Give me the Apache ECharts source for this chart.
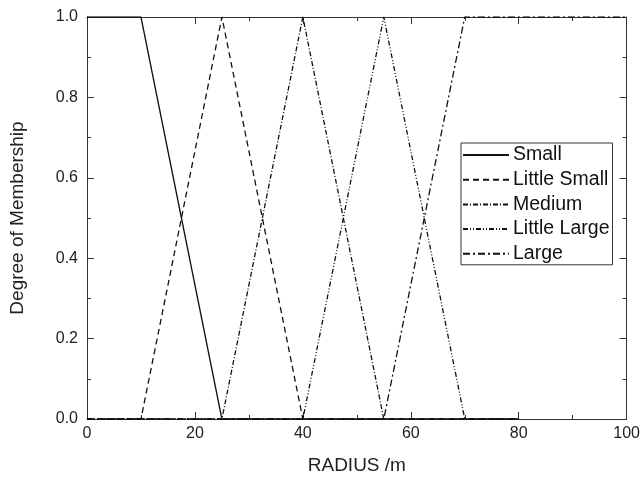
<!DOCTYPE html>
<html>
<head>
<meta charset="utf-8">
<script src="https://cdn.jsdelivr.net/npm/echarts@6/dist/echarts.min.js"></script>
<style>html,body{margin:0;padding:0;background:#fff}#c{width:643px;height:480px}</style>
</head>
<body>
<div id="c"></div>
<script>
const seriesNames = ["Small", "Little Small", "Medium", "Little Large", "Large"];
const small = [[0, 1], [10, 1], [25, 0], [80, 0]];
const littleSmall = [[0, 0], [10, 0], [25, 1], [40, 0], [80, 0]];
const medium = [[0, 0], [25, 0], [40, 1], [55, 0], [80, 0]];
const littleLarge = [[0, 0], [40, 0], [55, 1], [70, 0], [80, 0]];
const large = [[0, 0], [55, 0], [70, 1], [100, 1]];
const xTicks = [0, 20, 40, 60, 80, 100];
const yTicks = [0.0, 0.2, 0.4, 0.6, 0.8, 1.0];

const dashes = ["solid", [6, 4], [5, 2, 1, 2], [5, 2, 1, 2, 1, 2], [7, 3, 2, 3]];
const dataSets = [small, littleSmall, medium, littleLarge, large];
const font = "Liberation Sans, Arial, sans-serif";
const axisColor = "#333";

function mkX(pos, interval, len, showLine, labels) {
  return {
    type: "value", min: 0, max: 100, interval: interval, position: pos,
    splitLine: {show: false},
    axisLine: {show: showLine, onZero: false, lineStyle: {color: axisColor, width: 1}},
    axisTick: {show: true, inside: true, length: len, lineStyle: {color: axisColor}},
    axisLabel: labels ? {fontFamily: font, fontSize: 16, color: "#222", margin: 7,
      formatter: v => xTicks.includes(v) ? String(v) : ""} : {show: false}
  };
}
function mkY(pos, interval, len, showLine, labels) {
  return {
    type: "value", min: 0, max: 1, interval: interval, position: pos,
    splitLine: {show: false},
    axisLine: {show: showLine, onZero: false, lineStyle: {color: axisColor, width: 1}},
    axisTick: {show: true, inside: true, length: len, lineStyle: {color: axisColor}},
    axisLabel: labels ? {fontFamily: font, fontSize: 16, color: "#222", margin: 9,
      formatter: v => yTicks.find(t => Math.abs(t - v) < 1e-9) !== undefined ? v.toFixed(1) : ""} : {show: false}
  };
}

const xMain = mkX("bottom", 20, 7, true, true);
xMain.name = "RADIUS /m"; xMain.nameLocation = "middle"; xMain.nameGap = 37;
xMain.nameTextStyle = {fontFamily: font, fontSize: 19, color: "#222"};
const yMain = mkY("left", 0.2, 7, true, true);
yMain.name = "Degree of Membership"; yMain.nameLocation = "middle"; yMain.nameGap = 60;
yMain.nameTextStyle = {fontFamily: font, fontSize: 19, color: "#222"};

const chart = echarts.init(document.getElementById("c"), null, {renderer: "canvas"});
const option = {
  animation: false,
  backgroundColor: "#fff",
  grid: {left: 87, right: 14, top: 17, bottom: 58, containLabel: false},
  xAxis: [
    xMain,
    mkX("bottom", 10, 4, false, false),
    mkX("top", 20, 7, true, false),
    mkX("top", 10, 4, false, false)
  ],
  yAxis: [
    yMain,
    mkY("left", 0.1, 4, false, false),
    mkY("right", 0.2, 7, true, false),
    mkY("right", 0.1, 4, false, false)
  ],
  legend: {
    show: true,
    orient: "vertical", left: 461, top: 143,
    data: seriesNames,
    backgroundColor: "#fff",
    borderColor: "#333", borderWidth: 1, borderRadius: 0,
    padding: [2, 3, 1, 1], itemGap: 4.7, itemWidth: 46, itemHeight: 20,
    itemStyle: {opacity: 0, color: "rgba(0,0,0,0)", borderWidth: 0},
    textStyle: {fontFamily: font, fontSize: 19.5, color: "#111", padding: [0, 0, 0, -1]}
  },
  series: seriesNames.map((n, i) => ({
    name: n, type: "line", data: dataSets[i],
    xAxisIndex: 0, yAxisIndex: 0,
    showSymbol: false, symbol: "none",
    lineStyle: {color: "#111", width: 1.3, type: dashes[i]},
    itemStyle: {color: "#111"},
    z: 3
  }))
};
chart.setOption(option);
</script>
</body>
</html>
